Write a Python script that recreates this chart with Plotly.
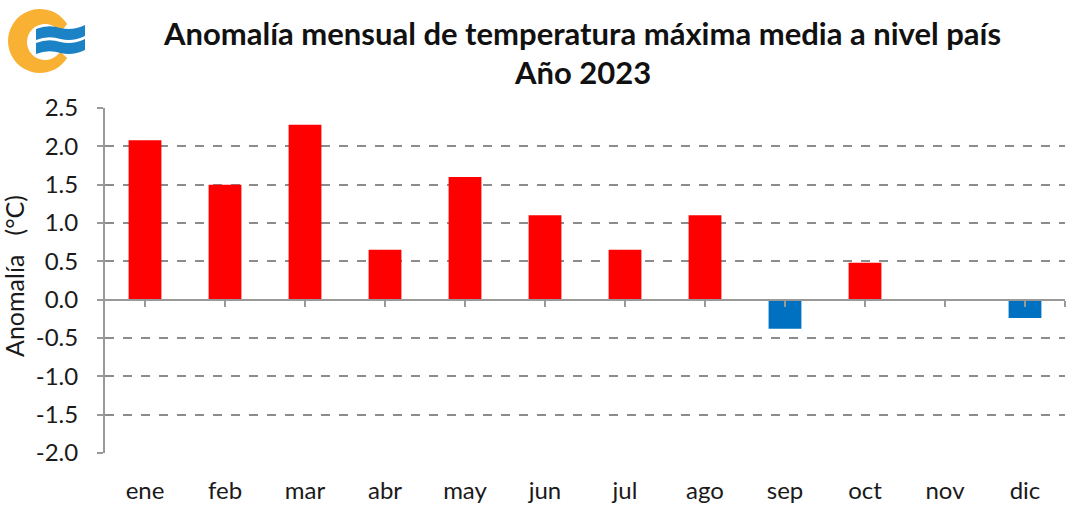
import math
import plotly.graph_objects as go

months = ["ene", "feb", "mar", "abr", "may", "jun", "jul", "ago", "sep", "oct", "nov", "dic"]
anomaly = [2.08, 1.50, 2.28, 0.65, 1.60, 1.10, 0.65, 1.10, -0.38, 0.48, 0.0, -0.24]
y_ticks = [2.5, 2.0, 1.5, 1.0, 0.5, 0.0, -0.5, -1.0, -1.5, -2.0]
title_line1 = "Anomalía mensual de temperatura máxima media a nivel país"
title_line2 = "Año 2023"
y_title = "Anomalía \u00a0\u00a0(°C)"

RED = "#FF0000"
BLUE = "#0070C0"
colors = [RED if v >= 0 else BLUE for v in anomaly]

W, H = 1072, 506
L, R, T, B = 105, 7, 108, 53
PW, PH = W - L - R, H - T - B
YMIN, YMAX = -2.0, 2.5


def px(x):
    return (x - L) / PW


def py(y):
    return (H - B - y) / PH


FONT = "Lato, 'Open Sans', sans-serif"
TXT = "#1a1a1a"

fig = go.Figure()
fig.add_trace(go.Bar(x=months, y=anomaly, marker=dict(color=colors, line=dict(width=0)),
                     width=0.41, hoverinfo="x+y"))

# invisible trace to activate the zero-line axis
fig.add_trace(go.Scatter(x=months, y=[None] * len(months), xaxis="x2", showlegend=False, hoverinfo="skip"))

zero_pos = (0 - YMIN) / (YMAX - YMIN)

fig.update_layout(
    width=W, height=H,
    margin=dict(l=L, r=R, t=T, b=B, autoexpand=False),
    plot_bgcolor="white", paper_bgcolor="white",
    showlegend=False,
    font=dict(family=FONT, size=24, color=TXT),
    xaxis=dict(showline=False, showgrid=False, ticks="", tickfont=dict(size=24, color=TXT),
               range=[-0.5, 11.5], fixedrange=True, ticklabelstandoff=21),
    xaxis2=dict(overlaying="x", anchor="free", position=zero_pos, side="bottom",
                range=[-0.5, 11.5], showline=True, linecolor="#999", linewidth=2,
                ticks="outside", ticklen=6, tickcolor="#999", tickwidth=2,
                showticklabels=False, showgrid=False,
                tickmode="array", tickvals=list(range(12)) + [11.5]),
    yaxis=dict(range=[YMIN, YMAX], tickvals=y_ticks, ticktext=[f"{v:.1f}" for v in y_ticks],
               showline=True, linecolor="#999", linewidth=2, ticks="outside", ticklen=6,
               tickcolor="#999", tickwidth=2, showgrid=True, gridcolor="#8c8c8c", griddash="dash",
               gridwidth=1.5, zeroline=False, tickfont=dict(size=24, color=TXT),
               ticklabelstandoff=14),
)

# y-axis title
fig.add_annotation(text=y_title, x=px(14), y=py(276), xref="paper", yref="paper", textangle=-90,
                   showarrow=False, font=dict(size=25, color=TXT, family=FONT),
                   xanchor="center", yanchor="middle")

# titles
fig.add_annotation(text=f"<b>{title_line1}</b>", x=px(582), y=py(33), xref="paper", yref="paper",
                   showarrow=False, font=dict(size=31, color="#111", family=FONT), xanchor="center", yanchor="middle")
fig.add_annotation(text=f"<b>{title_line2}</b>", x=px(582), y=py(72), xref="paper", yref="paper",
                   showarrow=False, font=dict(size=31, color="#111", family=FONT), xanchor="center", yanchor="middle")

# logo: orange C ring
ocx, ocy, ro = 40, 41, 32
icx, icy, ri = 45, 42, 18
a0, a1 = math.radians(32), math.radians(328)
n = 40
pts = []
for i in range(n + 1):
    a = a0 + (a1 - a0) * i / n
    pts.append((ocx + ro * math.cos(a), ocy - ro * math.sin(a)))
for i in range(n + 1):
    a = a1 - (a1 - a0) * i / n
    pts.append((icx + ri * math.cos(a), icy - ri * math.sin(a)))
path = "M " + " L ".join(f"{px(x):.5f},{py(y):.5f}" for x, y in pts) + " Z"
fig.add_shape(type="path", path=path, xref="paper", yref="paper", fillcolor="#F8B133", line=dict(width=0))


# blue waves
def wave(y_top, thick):
    x0, x1 = 36, 85
    xm = (x0 + x1) / 2
    p = [
        f"M {px(x0):.5f},{py(y_top + 2):.5f}",
        f"Q {px((x0 + xm) / 2):.5f},{py(y_top - 3):.5f} {px(xm):.5f},{py(y_top + 1):.5f}",
        f"Q {px((xm + x1) / 2):.5f},{py(y_top + 4):.5f} {px(x1):.5f},{py(y_top - 2):.5f}",
        f"L {px(x1):.5f},{py(y_top - 2 + thick):.5f}",
        f"Q {px((xm + x1) / 2):.5f},{py(y_top + 4 + thick):.5f} {px(xm):.5f},{py(y_top + 1 + thick):.5f}",
        f"Q {px((x0 + xm) / 2):.5f},{py(y_top - 3 + thick):.5f} {px(x0):.5f},{py(y_top + 2 + thick):.5f}",
        "Z",
    ]
    return " ".join(p)


fig.add_shape(type="path", path=wave(27, 11), xref="paper", yref="paper", fillcolor="#1C82C6", line=dict(width=0))
fig.add_shape(type="path", path=wave(41, 11), xref="paper", yref="paper", fillcolor="#1C82C6", line=dict(width=0))

fig.write_html("out.html", config={"displayModeBar": False},
               post_script="document.body.style.margin='0';document.body.style.overflow='hidden';")
